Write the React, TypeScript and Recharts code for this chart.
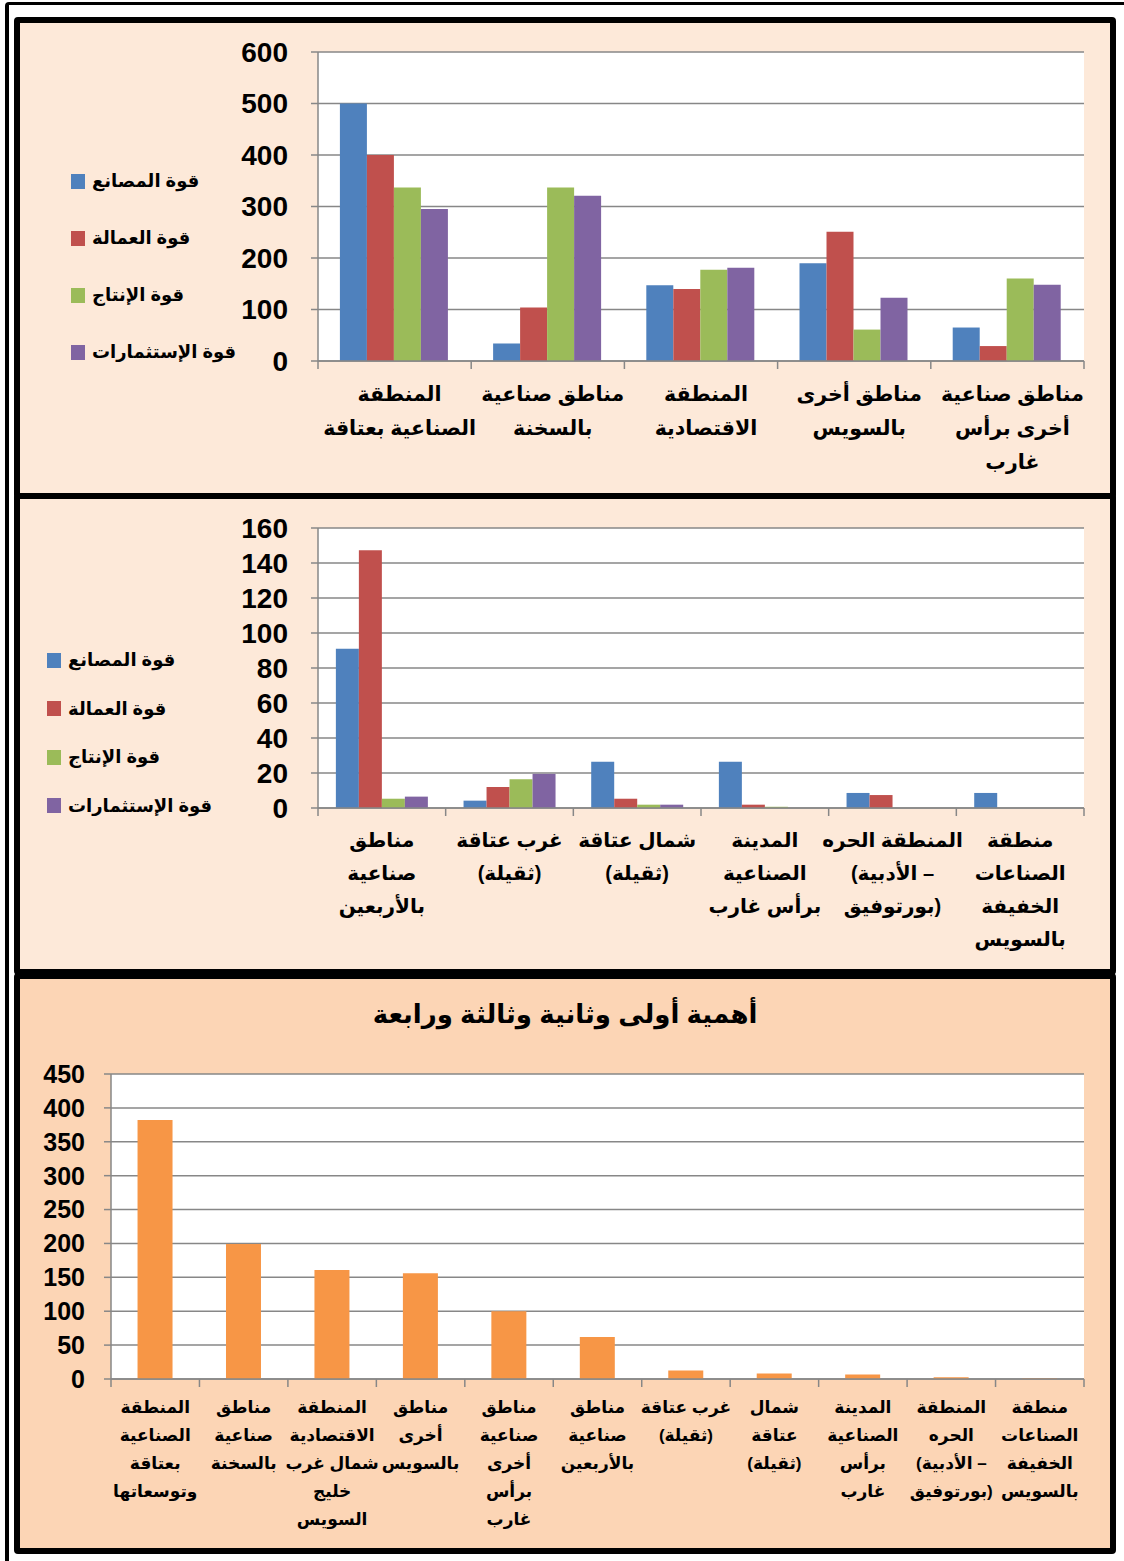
import React from "react";
import { Bar, BarChart, CartesianGrid, XAxis, YAxis } from "recharts";

const FONT = "'Liberation Sans', 'DejaVu Sans', Arial, sans-serif";
const GRID = "#878787";
const LRM = "\u200E";

const SERIES_NAMES = ["قوة المصانع", "قوة العمالة", "قوة الإنتاج", "قوة الإستثمارات"];
const SERIES_KEYS = ["factories", "labour", "production", "investment"];
const SERIES_COLORS = ["#4F81BD", "#C0504D", "#9BBB59", "#8064A2"];

// panel 1 - main zones
const zones1 = [
  "المنطقة\nالصناعية بعتاقة",
  "مناطق صناعية\nبالسخنة",
  "المنطقة\nالاقتصادية",
  "مناطق أخرى\nبالسويس",
  "مناطق صناعية\nأخرى برأس\nغارب",
];
const factories1 = [500, 34, 147, 190, 65];
const labour1 = [400, 104, 140, 251, 29];
const production1 = [337, 337, 177, 61, 160];
const investment1 = [295, 321, 181, 123, 148];
const ticks1 = [0, 100, 200, 300, 400, 500, 600];

// panel 2 - smaller zones
const zones2 = [
  "مناطق\nصناعية\nبالأربعين",
  "غرب عتاقة\n(ثقيلة)",
  "شمال عتاقة\n(ثقيلة)",
  "المدينة\nالصناعية\nبرأس غارب",
  "المنطقة الحره\n(الأدبية –\nبورتوفيق)",
  "منطقة\nالصناعات\nالخفيفة\nبالسويس",
];
const factories2 = [91, 4.2, 26.4, 26.4, 8.6, 8.6];
const labour2 = [147.3, 12, 5.3, 1.9, 7.4, 0];
const production2 = [5.3, 16.4, 1.9, 0.7, 0, 0];
const investment2 = [6.5, 19.5, 1.9, 0, 0, 0];
const ticks2 = [0, 20, 40, 60, 80, 100, 120, 140, 160];

// panel 3 - ranking
const zones3 = [
  "المنطقة\nالصناعية\nبعتاقة\nوتوسعاتها",
  "مناطق\nصناعية\nبالسخنة",
  "المنطقة\nالاقتصادية\nشمال غرب\nخليج\nالسويس",
  "مناطق\nأخرى\nبالسويس",
  "مناطق\nصناعية\nأخرى\nبرأس\nغارب",
  "مناطق\nصناعية\nبالأربعين",
  "غرب عتاقة\n(ثقيلة)",
  "شمال\nعتاقة\n(ثقيلة)",
  "المدينة\nالصناعية\nبرأس\nغارب",
  "المنطقة\nالحره\n(الأدبية –\nبورتوفيق)",
  "منطقة\nالصناعات\nالخفيفة\nبالسويس",
];
const importance3 = [382, 199, 161, 156, 100, 62, 12.6, 8, 6.5, 2.5, 1];
const ticks3 = [0, 50, 100, 150, 200, 250, 300, 350, 400, 450];
const TITLE3 = "أهمية أولى وثانية وثالثة ورابعة";

const data1 = zones1.map((zone, i) => ({
  zone,
  factories: factories1[i],
  labour: labour1[i],
  production: production1[i],
  investment: investment1[i],
}));
const data2 = zones2.map((zone, i) => ({
  zone,
  factories: factories2[i],
  labour: labour2[i],
  production: production2[i],
  investment: investment2[i],
}));
const data3 = zones3.map((zone, i) => ({ zone, value: importance3[i] }));

function ZoneTick(props: any) {
  const { x, y, payload, band, count, fontSize, first, gap, shift = 0 } = props;
  const index = props.index ?? payload.index;
  const lines = String(payload.value).split("\n");
  const cx = x + shift;
  return (
    <g>
      <line x1={x - band / 2} x2={x - band / 2} y1={y} y2={y + 8} stroke={GRID} strokeWidth={1.5} />
      {index === count - 1 && (
        <line x1={x + band / 2} x2={x + band / 2} y1={y} y2={y + 8} stroke={GRID} strokeWidth={1.5} />
      )}
      <text
        x={cx}
        y={y + first}
        textAnchor="middle"
        fontSize={fontSize}
        fontWeight="bold"
        fontFamily={FONT}
        fill="#000"
        direction="ltr"
        unicodeBidi="embed"
      >
        {lines.map((l, i) => (
          // each line laid out left-to-right as in the original, brackets keep their side
          <tspan key={i} x={cx} dy={i === 0 ? 0 : gap}>
            {LRM + l + LRM}
          </tspan>
        ))}
      </text>
    </g>
  );
}

function SideLegend({ left, top, gap, fontSize }: { left: number; top: number; gap: number; fontSize: number }) {
  return (
    <>
      {SERIES_NAMES.map((name, i) => (
        <div
          key={name}
          style={{
            position: "absolute",
            left,
            top: top + i * gap - 15,
            height: 30,
            display: "flex",
            alignItems: "center",
            whiteSpace: "nowrap",
          }}
        >
          <span style={{ width: 14, height: 15, background: SERIES_COLORS[i], marginRight: 7 }} />
          <span style={{ fontSize, fontWeight: "bold", fontFamily: FONT, color: "#000" }}>{name}</span>
        </div>
      ))}
    </>
  );
}

const panel = (top: number, height: number, bg: string): React.CSSProperties => ({
  position: "absolute",
  left: 14,
  top,
  width: 1102,
  height,
  border: "6px solid #000",
  boxSizing: "border-box",
  background: bg,
  borderRadius: 4,
});

const W = 1124;
const PLOT_RIGHT = 40;

export default function App() {
  const yTick = (size: number) => ({ fill: "#000", fontSize: size, fontWeight: "bold", fontFamily: FONT });
  const band1 = (W - 318 - PLOT_RIGHT) / zones1.length;
  const band2 = (W - 318 - PLOT_RIGHT) / zones2.length;
  const band3 = (W - 111 - PLOT_RIGHT) / zones3.length;

  return (
    <div style={{ position: "absolute", left: 0, top: 0, width: W, height: 1561, background: "#fff", overflow: "hidden" }}>
      <div
        style={{
          position: "absolute",
          left: 5,
          top: 2,
          width: 1140,
          height: 1600,
          borderTop: "3px solid #000",
          borderLeft: "4px solid #000",
          borderRadius: 4,
        }}
      />
      <div style={panel(17, 482, "#FDE9D9")} />
      <div style={panel(493, 482, "#FDE9D9")} />
      <div style={panel(973, 581, "#FCD5B5")} />

      {/* panel 1 */}
      <div style={{ position: "absolute", left: 0, top: 0 }}>
        <BarChart
          width={W}
          height={499}
          data={data1}
          margin={{ top: 52, right: PLOT_RIGHT, bottom: 0, left: 0 }}
          barCategoryGap="14.3%"
          barGap={0}
        >
          <CartesianGrid vertical={false} fill="#fff" stroke={GRID} strokeWidth={1.5} />
          <XAxis
            dataKey="zone"
            height={138}
            interval={0}
            tickSize={0}
            tickMargin={0}
            tickLine={false}
            axisLine={{ stroke: GRID, strokeWidth: 1.5 }}
            tick={(p: any) => (
              <ZoneTick {...p} band={band1} count={zones1.length} fontSize={20.5} first={40} gap={34} shift={5} />
            )}
          />
          <YAxis
            width={318}
            domain={[0, 600]}
            ticks={ticks1}
            interval={0}
            tickSize={7}
            tickMargin={23}
            axisLine={{ stroke: GRID, strokeWidth: 1.5 }}
            tickLine={{ stroke: GRID, strokeWidth: 1.5 }}
            tick={yTick(28)}
          />
          {SERIES_KEYS.map((k, i) => (
            <Bar key={k} dataKey={k} name={SERIES_NAMES[i]} fill={SERIES_COLORS[i]} isAnimationActive={false} />
          ))}
        </BarChart>
      </div>
      <SideLegend left={71} top={181} gap={57} fontSize={18} />

      {/* panel 2 */}
      <div style={{ position: "absolute", left: 0, top: 499 }}>
        <BarChart
          width={W}
          height={470}
          data={data2}
          margin={{ top: 29, right: PLOT_RIGHT, bottom: 0, left: 0 }}
          barCategoryGap="14%"
          barGap={0}
        >
          <CartesianGrid vertical={false} fill="#fff" stroke={GRID} strokeWidth={1.5} />
          <XAxis
            dataKey="zone"
            height={161}
            interval={0}
            tickSize={0}
            tickMargin={0}
            tickLine={false}
            axisLine={{ stroke: GRID, strokeWidth: 1.5 }}
            tick={(p: any) => (
              <ZoneTick {...p} band={band2} count={zones2.length} fontSize={20} first={39} gap={33} />
            )}
          />
          <YAxis
            width={318}
            domain={[0, 160]}
            ticks={ticks2}
            interval={0}
            tickSize={7}
            tickMargin={23}
            axisLine={{ stroke: GRID, strokeWidth: 1.5 }}
            tickLine={{ stroke: GRID, strokeWidth: 1.5 }}
            tick={yTick(28)}
          />
          {SERIES_KEYS.map((k, i) => (
            <Bar key={k} dataKey={k} name={SERIES_NAMES[i]} fill={SERIES_COLORS[i]} isAnimationActive={false} />
          ))}
        </BarChart>
      </div>
      <SideLegend left={47} top={660} gap={48.5} fontSize={18} />

      {/* panel 3 */}
      <div
        style={{
          position: "absolute",
          left: 0,
          width: 1130,
          top: 999,
          textAlign: "center",
          fontFamily: FONT,
          fontWeight: "bold",
          fontSize: 26,
          color: "#000",
        }}
      >
        {TITLE3}
      </div>
      <div style={{ position: "absolute", left: 0, top: 979 }}>
        <BarChart
          width={W}
          height={574}
          data={data3}
          margin={{ top: 95, right: PLOT_RIGHT, bottom: 0, left: 0 }}
          barCategoryGap="30%"
        >
          <CartesianGrid vertical={false} fill="#fff" stroke={GRID} strokeWidth={1.5} />
          <XAxis
            dataKey="zone"
            height={174}
            interval={0}
            tickSize={0}
            tickMargin={0}
            tickLine={false}
            axisLine={{ stroke: GRID, strokeWidth: 1.5 }}
            tick={(p: any) => (
              <ZoneTick {...p} band={band3} count={zones3.length} fontSize={17} first={34} gap={28} />
            )}
          />
          <YAxis
            width={111}
            domain={[0, 450]}
            ticks={ticks3}
            interval={0}
            tickSize={7}
            tickMargin={19}
            axisLine={{ stroke: GRID, strokeWidth: 1.5 }}
            tickLine={{ stroke: GRID, strokeWidth: 1.5 }}
            tick={yTick(25)}
          />
          <Bar dataKey="value" fill="#F79646" isAnimationActive={false} />
        </BarChart>
      </div>
    </div>
  );
}
